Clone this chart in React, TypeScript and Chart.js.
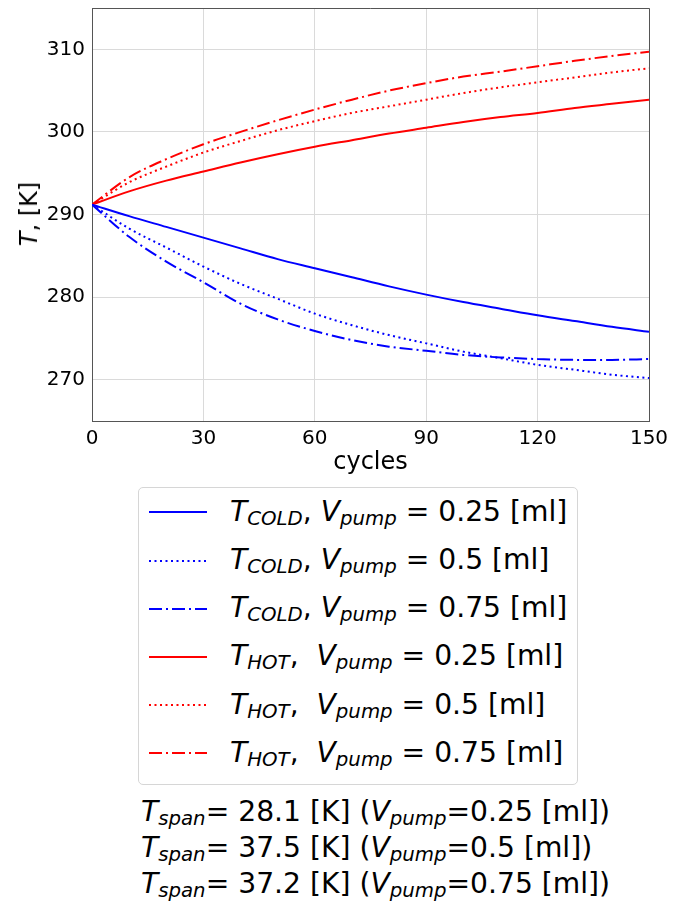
import React, { useEffect, useRef } from 'react';
import { Chart, registerables } from 'chart.js';

Chart.register(...registerables);

const cycles = [0, 10, 20, 30, 40, 50, 60, 70, 80, 90, 100, 110, 120, 130, 140, 150];
const coldV025 = [291.2, 289.8, 288.5, 287.2, 285.9, 284.6, 283.5, 282.4, 281.3, 280.3, 279.4, 278.6, 277.8, 277.1, 276.4, 275.8];
const coldV05 = [291.2, 288.3, 286.0, 283.7, 281.6, 279.8, 278.0, 276.6, 275.4, 274.4, 273.4, 272.6, 271.8, 271.2, 270.6, 270.2];
const coldV075 = [291.2, 287.3, 284.3, 281.8, 279.2, 277.3, 275.9, 274.8, 274.0, 273.5, 273.0, 272.7, 272.5, 272.4, 272.4, 272.5];
const hotV025 = [291.2, 292.8, 294.1, 295.2, 296.3, 297.3, 298.2, 299.0, 299.8, 300.5, 301.2, 301.8, 302.3, 302.9, 303.4, 303.9];
const hotV05 = [291.2, 293.9, 295.8, 297.5, 298.9, 300.2, 301.3, 302.3, 303.1, 303.9, 304.7, 305.4, 306.0, 306.6, 307.2, 307.7];
const hotV075 = [291.2, 294.5, 296.7, 298.5, 300.0, 301.4, 302.7, 303.9, 305.0, 305.9, 306.7, 307.3, 307.95, 308.6, 309.2, 309.7];

const xTicks = [0, 30, 60, 90, 120, 150];
const yTicks = [270, 280, 290, 300, 310];

const BLUE = '#0000ff';
const RED = '#ff0000';
const SOLID: number[] = [];
const DOTTED = [2, 3.5];
const DASHDOT = [13, 4, 2, 4];

const seriesInfo = [
  { data: coldV025, color: BLUE, dash: SOLID, kind: 'COLD', v: '0.25' },
  { data: coldV05, color: BLUE, dash: DOTTED, kind: 'COLD', v: '0.5' },
  { data: coldV075, color: BLUE, dash: DASHDOT, kind: 'COLD', v: '0.75' },
  { data: hotV025, color: RED, dash: SOLID, kind: 'HOT', v: '0.25' },
  { data: hotV05, color: RED, dash: DOTTED, kind: 'HOT', v: '0.5' },
  { data: hotV075, color: RED, dash: DASHDOT, kind: 'HOT', v: '0.75' },
];

const spanValues = ['28.1', '37.5', '37.2'];
const spanPumps = ['0.25', '0.5', '0.75'];

const FONT = "'DejaVu Sans', sans-serif";

const boxPlugin = {
  id: 'boxPlugin',
  afterDatasetsDraw(chart: any) {
    const { ctx, chartArea } = chart;
    ctx.save();
    ctx.strokeStyle = '#555555';
    ctx.lineWidth = 1;
    ctx.beginPath();
    ctx.moveTo(chartArea.left, chartArea.top + 0.5);
    ctx.lineTo(chartArea.right + 0.5, chartArea.top + 0.5);
    ctx.lineTo(chartArea.right + 0.5, chartArea.bottom);
    ctx.stroke();
    ctx.restore();
  },
};

const Sub = ({ children }: { children: React.ReactNode }) => (
  <span style={{ fontSize: '0.7em', fontStyle: 'italic', verticalAlign: '-4px' }}>{children}</span>
);

export default function App() {
  const ref = useRef<HTMLCanvasElement | null>(null);

  useEffect(() => {
    if (!ref.current) return;
    const chart = new Chart(ref.current, {
      type: 'line',
      data: {
        labels: cycles,
        datasets: seriesInfo.map((s) => ({
          label: `T_${s.kind}, V_pump = ${s.v} [ml]`,
          data: cycles.map((c, i) => ({ x: c, y: s.data[i] })),
          borderColor: s.color,
          backgroundColor: s.color,
          borderDash: s.dash,
          borderWidth: 2,
          pointRadius: 0,
          fill: false,
          cubicInterpolationMode: 'monotone' as const,
        })),
      },
      options: {
        animation: false,
        responsive: false,
        devicePixelRatio: 1,
        layout: { padding: { top: 8, right: 34, left: 0, bottom: 0 } },
        plugins: { legend: { display: false }, tooltip: { enabled: false } },
        scales: {
          x: {
            type: 'linear',
            min: 0,
            max: 150,
            afterBuildTicks: (s: any) => {
              s.ticks = xTicks.map((v) => ({ value: v }));
            },
            afterFit: (s: any) => {
              s.height = 59;
              s.paddingLeft = 0;
              s.paddingRight = 0;
            },
            ticks: { color: '#000', font: { size: 20, family: FONT }, padding: 6, maxRotation: 0 },
            grid: { color: '#dadada', lineWidth: 1, drawTicks: false },
            border: { color: '#555555' },
            title: {
              display: true,
              text: 'cycles',
              color: '#000',
              font: { size: 24, family: FONT },
              padding: { top: 0, bottom: 3 },
            },
          },
          y: {
            type: 'linear',
            min: 265,
            max: 315,
            afterBuildTicks: (s: any) => {
              s.ticks = yTicks.map((v) => ({ value: v }));
            },
            afterFit: (s: any) => {
              s.width = 92;
              s.paddingTop = 0;
              s.paddingBottom = 0;
            },
            ticks: { color: '#000', font: { size: 20, family: FONT }, padding: 7 },
            grid: { color: '#dadada', lineWidth: 1, drawTicks: false },
            border: { color: '#555555' },
          },
        },
      },
      plugins: [boxPlugin],
    });
    return () => chart.destroy();
  }, []);

  const legendFont = 28.2;
  const baseOff = 0.846 * legendFont;

  return (
    <div
      style={{
        position: 'absolute',
        left: 0,
        top: 0,
        width: 683,
        height: 909,
        background: '#fff',
        fontFamily: FONT,
        color: '#000',
        overflow: 'hidden',
      }}
    >
      <canvas ref={ref} width={683} height={480} style={{ position: 'absolute', left: 0, top: 0, width: 683, height: 480 }} />
      <div
        style={{
          position: 'absolute',
          left: 29,
          top: 214,
          transform: 'translate(-50%, -50%) rotate(-90deg)',
          fontSize: 24,
          lineHeight: 1,
          whiteSpace: 'pre',
        }}
      >
        <i>T</i>, [K]
      </div>
      <div
        style={{
          position: 'absolute',
          left: 138,
          top: 487,
          width: 440,
          height: 298,
          border: '1px solid #d6d6d6',
          borderRadius: 5,
          boxSizing: 'border-box',
        }}
      />
      {seriesInfo.map((s, i) => {
        const lineY = 512.3 + 48.2 * i;
        const baseline = lineY + 9.4;
        return (
          <React.Fragment key={i}>
            <svg style={{ position: 'absolute', left: 149, top: lineY - 5, width: 58, height: 10 }} width={58} height={10}>
              <line
                x1={0}
                y1={5}
                x2={58}
                y2={5}
                stroke={s.color}
                strokeWidth={2}
                strokeDasharray={s.dash.length ? s.dash.join(' ') : undefined}
              />
            </svg>
            <div
              style={{
                position: 'absolute',
                left: 230,
                top: baseline - baseOff,
                fontSize: legendFont,
                lineHeight: 1,
                whiteSpace: 'pre',
              }}
            >
              <i>T</i>
              <Sub>{s.kind}</Sub>
              {s.kind === 'HOT' ? ',  ' : ', '}
              <i>V</i>
              <Sub>pump</Sub>
              {` = ${s.v} [ml]`}
            </div>
          </React.Fragment>
        );
      })}
      {spanValues.map((v, i) => {
        const baseline = 821.7 + 36.2 * i;
        return (
          <div
            key={i}
            style={{
              position: 'absolute',
              left: 141,
              top: baseline - baseOff,
              fontSize: legendFont,
              lineHeight: 1,
              whiteSpace: 'pre',
            }}
          >
            <i>T</i>
            <Sub>span</Sub>
            {`= ${v} [K] (`}
            <i>V</i>
            <Sub>pump</Sub>
            {`=${spanPumps[i]} [ml])`}
          </div>
        );
      })}
    </div>
  );
}
